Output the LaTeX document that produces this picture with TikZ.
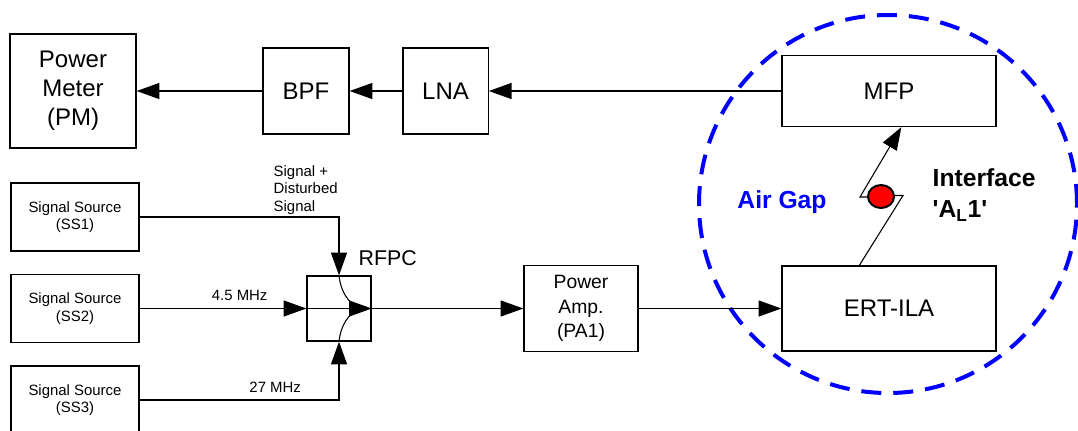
\documentclass[tikz,border=0pt]{standalone}
\usepackage{fontspec}
\setmainfont{Liberation Sans}
\usetikzlibrary{calc}
\usetikzlibrary{arrows.meta}
\newcommand{\txtL}{\fontsize{18}{21.75}\selectfont}
\newcommand{\txtB}{\fontsize{18.5}{23}\selectfont\bfseries}
\newcommand{\txtM}{\fontsize{14.5}{18.5}\selectfont}
\newcommand{\txtS}{\fontsize{11.2}{13}\selectfont}
\definecolor{gapblue}{RGB}{0,0,255}

\begin{document}
\begin{tikzpicture}[x=0.75pt, y=-0.75pt,
  blk/.style={draw, line width=1pt, inner sep=0pt, align=center},
  sig/.style={line width=0.8pt, ->, >={Triangle[length=17pt,width=12pt]}},
  wire/.style={line width=0.8pt}]
\useasboundingbox (0,0) rectangle (1078,430);
% air gap
\draw[gapblue, line width=3pt, dash pattern=on 15pt off 9pt] (888,204) circle[radius=141.75pt];
% receive chain
\node[blk, minimum width=94.5pt, minimum height=85.5pt, font=\txtL] (pm) at (73,91) {Power\\Meter\\(PM)};
\node[blk, minimum width=64.5pt, minimum height=64.5pt, font=\txtL] (bpf) at (306,91) {BPF};
\node[blk, minimum width=64pt, minimum height=64.5pt, font=\txtL] (lna) at (445.5,91) {LNA};
\node[blk, minimum width=160.5pt, minimum height=53.25pt, font=\txtL] (mfp) at (889,91) {MFP};
% transmit chain
\node[blk, minimum width=96pt, minimum height=51pt, font=\txtS] (ss1) at (75,217) {Signal Source\\(SS1)};
\node[blk, minimum width=96pt, minimum height=51pt, font=\txtS] (ss2) at (75,308.5) {Signal Source\\(SS2)};
\node[blk, minimum width=96pt, minimum height=51pt, font=\txtS] (ss3) at (75,400) {Signal Source\\(SS3)};
\node[blk, minimum width=48pt, minimum height=48.75pt] (rfpc) at (339,308.5) {};
\node[font=\fontsize{16}{19}\selectfont, anchor=west] at (354,258) {RFPC};
\node[blk, minimum width=85.5pt, minimum height=64.5pt, font=\txtM] (pa) at (581,308.5) {Power\\Amp.\\(PA1)};
\node[blk, minimum width=160.5pt, minimum height=63.75pt, font=\txtL] (ert) at (889,308.5) {ERT-ILA};
% connectors
\draw[sig] (mfp.west) -- (lna.east);
\draw[sig] (lna.west) -- (bpf.east);
\draw[sig] (bpf.west) -- (pm.east);
\draw[sig] (ss1.east) -| (rfpc.north);
\draw[sig] (ss2.east) -- (rfpc.west) node[pos=0.6, above=2pt, font=\txtS] {4.5 MHz};
\draw[sig] (ss3.east) -| (rfpc.south) node[pos=0.34, above=2pt, font=\txtS] {27 MHz};
\node[font=\txtS, align=left, anchor=west] at (269,190) {Signal +\\Disturbed\\Signal};
% inside the combiner
\coordinate (rfmid) at ($(rfpc.east)+(-14,0)$);
\draw[sig] (rfpc.west) -- (rfpc.east);
\draw[wire] (rfpc.north) .. controls ($(rfpc.north)+(2,18)$) and ($(rfmid)+(-9,-7)$) .. (rfmid);
\draw[wire] (rfpc.south) .. controls ($(rfpc.south)+(2,-18)$) and ($(rfmid)+(-9,7)$) .. (rfmid);
\draw[sig] (rfpc.east) -- (pa.west);
\draw[sig] (pa.east) -- (ert.west);
% interface
\coordinate (dot) at (881,196.5);
\coordinate (z1) at ($(ert.north west)+(78,0)$);
\coordinate (z6) at ($(mfp.south west)+(120,0)$);
\draw[wire] (z1) -- ($(dot)+(22,-1)$) -- ($(dot)+(11,-1)$);
\draw[sig] ($(dot)+(-11,0.5)$) -- ($(dot)+(-21,0.5)$) -- (z6);
\draw[line width=1.5pt, fill=red] (dot) ellipse[x radius=13, y radius=11.5];
\node[font=\txtB, align=left, anchor=west] at (928,195) {Interface\\\textquotesingle A\textsubscript{L}1\textquotesingle};
\node[font=\txtB, text=gapblue] at (782,202) {Air Gap};
\end{tikzpicture}
\end{document}
